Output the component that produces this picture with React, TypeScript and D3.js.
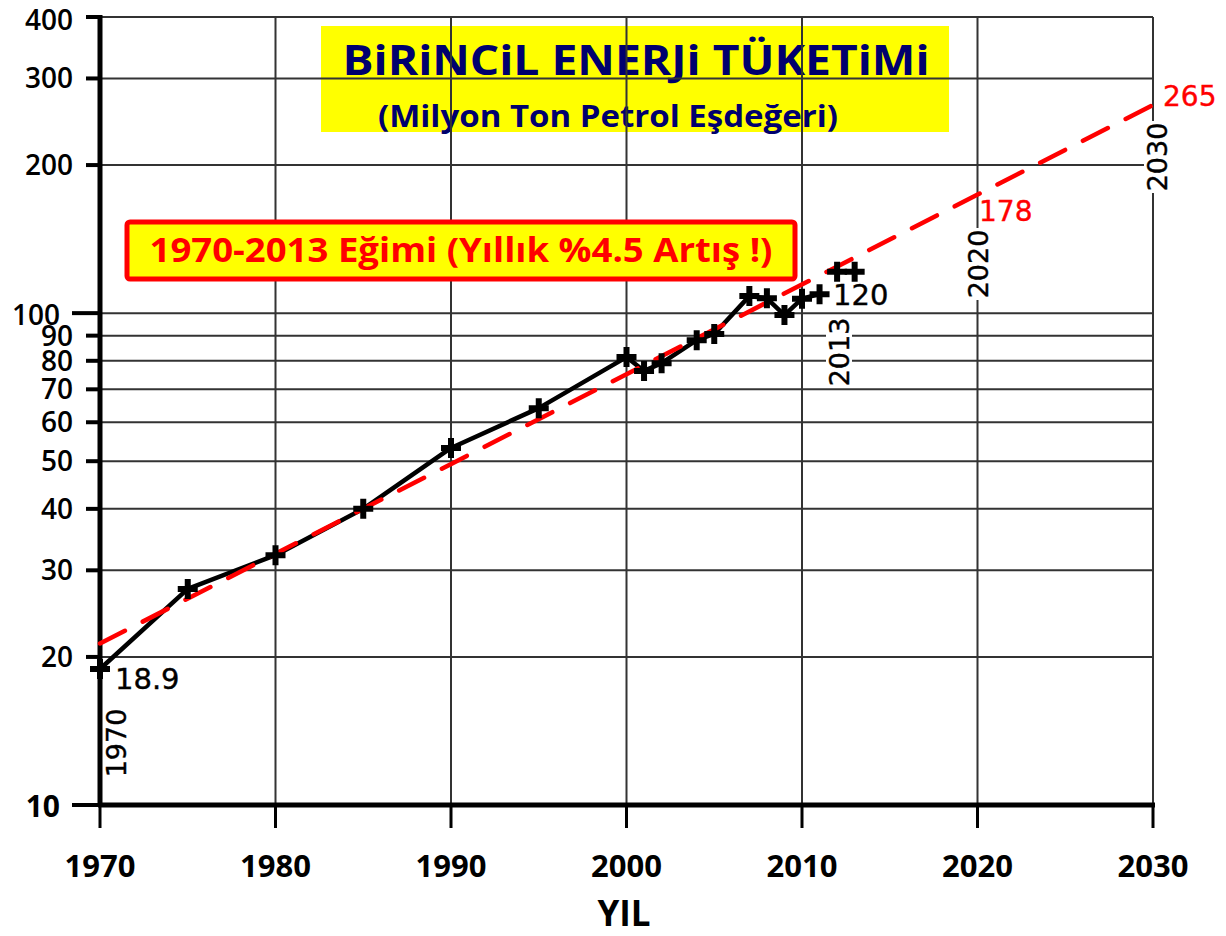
import React from "react";
import * as d3 from "d3";

const years = [1970, 1975, 1980, 1985, 1990, 1995, 2000, 2001, 2002, 2004, 2005, 2007, 2008, 2009, 2010, 2011];
const values = [18.9, 27.5, 32.2, 40.0, 53.2, 64.1, 81.4, 76.3, 79.1, 88.1, 90.7, 108.3, 107.2, 99.1, 107.0, 109.3];
const recentYears = [2012, 2013];
const recentValues = [121.4, 121.4];
const trendYears = [1970, 2030];
const trendValues = [21.3, 265];
const yTicks = [10, 20, 30, 40, 50, 60, 70, 80, 90, 100, 200, 300, 400];
const xTicks = [1970, 1980, 1990, 2000, 2010, 2020, 2030];

const TITLE = "BiRiNCiL ENERJi TÜKETiMi";
const SUBTITLE = "(Milyon Ton Petrol Eşdeğeri)";
const SLOPE_LABEL = "1970-2013 Eğimi (Yıllık %4.5 Artış !)";
const X_TITLE = "YIL";

const W = 1226;
const H = 936;

export default function App() {
  const x = d3.scaleLinear().domain([1970, 2030]).range([100, 1153]);
  const y = d3.scaleLog().domain([10, 400]).range([805, 17]);

  const mkLine = d3
    .line<[number, number]>()
    .x((d) => x(d[0]))
    .y((d) => y(d[1]));

  const mainPts: [number, number][] = years.map((yr, i) => [yr, values[i]]);
  const recentPts: [number, number][] = recentYears.map((yr, i) => [yr, recentValues[i]]);
  const trendPts: [number, number][] = trendYears.map((yr, i) => [yr, trendValues[i]]);

  const numFont = "'DejaVu Sans', sans-serif";
  const labFont = "'Open Sans', sans-serif";

  const cross = "M-10,0H10M0,-10V10";

  const rotLabel = (txt: string, cx: number, cy: number) => (
    <g key={txt} transform={`translate(${cx},${cy}) rotate(-90)`}>
      <rect x={-36} y={-13} width={72} height={26} fill="#fff" />
      <text
        x={0}
        y={0}
        textAnchor="middle"
        dominantBaseline="central"
        fontFamily={numFont}
        fontSize={27}
        fill="#000"
        stroke="#000"
        strokeWidth={0.4}
      >
        {txt}
      </text>
    </g>
  );

  return (
    <svg
      width={W}
      height={H}
      style={{ position: "absolute", left: 0, top: 0, background: "#fff" }}
    >
      <rect x={0} y={0} width={W} height={H} fill="#fff" />
      {/* title box (gridlines drawn over it) */}
      <rect x={321} y={26} width={628} height={106} fill="#ffff00" />
      <text
        x={636}
        y={75}
        textAnchor="middle"
        fontFamily={labFont}
        fontWeight={700}
        fontSize={42}
        fill="#00006e"
        textLength={587}
        lengthAdjust="spacingAndGlyphs"
      >
        {TITLE}
      </text>
      <text
        x={608}
        y={127}
        textAnchor="middle"
        fontFamily={labFont}
        fontWeight={700}
        fontSize={31}
        fill="#00006e"
        textLength={460}
        lengthAdjust="spacingAndGlyphs"
      >
        {SUBTITLE}
      </text>

      {/* horizontal gridlines */}
      {yTicks.map((t) => (
        <line
          key={"h" + t}
          x1={x(1970)}
          x2={x(2030)}
          y1={y(t)}
          y2={y(t)}
          stroke="#333"
          strokeWidth={2}
        />
      ))}
      {/* vertical gridlines */}
      {xTicks.map((t) => (
        <line
          key={"v" + t}
          x1={x(t)}
          x2={x(t)}
          y1={y(400)}
          y2={y(10)}
          stroke="#333"
          strokeWidth={2}
        />
      ))}
      {/* x ticks */}
      {xTicks.map((t) => (
        <line
          key={"xt" + t}
          x1={x(t)}
          x2={x(t)}
          y1={y(10)}
          y2={y(10) + 23}
          stroke="#000"
          strokeWidth={3}
        />
      ))}
      {/* y ticks */}
      {yTicks.map((t) => (
        <line
          key={"yt" + t}
          x1={t === 100 || t === 10 ? 72 : 86}
          x2={x(1970)}
          y1={y(t)}
          y2={y(t)}
          stroke="#000"
          strokeWidth={4}
        />
      ))}
      {/* axes */}
      <line x1={x(1970)} x2={x(1970)} y1={y(400) - 2} y2={y(10) + 2} stroke="#000" strokeWidth={5} />
      <line x1={x(1970) - 2} x2={x(2030) + 2} y1={y(10)} y2={y(10)} stroke="#000" strokeWidth={5} />

      {/* y labels */}
      {yTicks.map((t) => {
        if (t === 10) {
          return (
            <text
              key={"yl" + t}
              x={60}
              y={y(t)}
              textAnchor="end"
              dominantBaseline="central"
              fontFamily={labFont}
              fontWeight={700}
              fontSize={30}
              fill="#000"
            >
              {t}
            </text>
          );
        }
        return (
          <text
            key={"yl" + t}
            x={t === 100 ? 60 : 73}
            y={t === 100 ? y(t) + 1 : t === 400 ? y(t) + 2 : y(t) - 1}
            textAnchor="end"
            dominantBaseline="central"
            fontFamily={labFont}
            fontWeight={600}
            fontSize={28}
            fill="#000"
          >
            {t}
          </text>
        );
      })}
      {/* x labels */}
      {xTicks.map((t) => (
        <text
          key={"xl" + t}
          x={x(t)}
          y={877}
          textAnchor="middle"
          fontFamily={labFont}
          fontWeight={700}
          fontSize={31}
          fill="#000"
        >
          {t}
        </text>
      ))}
      <text
        x={624}
        y={926}
        textAnchor="middle"
        fontFamily={labFont}
        fontWeight={700}
        fontSize={35}
        fill="#000"
      >
        {X_TITLE}
      </text>

      {/* slope label box */}
      <rect x={127} y={222} width={668} height={57} rx={3} fill="#ffff00" stroke="#ff0000" strokeWidth={5} />
      <text
        x={461}
        y={262}
        textAnchor="middle"
        fontFamily={labFont}
        fontWeight={700}
        fontSize={34}
        fill="#ff0000"
        textLength={623}
        lengthAdjust="spacingAndGlyphs"
      >
        {SLOPE_LABEL}
      </text>

      {/* rotated year labels with white backgrounds */}
      {rotLabel("1970", 116, 743)}
      {rotLabel("2013", 839, 352)}
      {rotLabel("2020", 978, 264)}
      {rotLabel("2030", 1157, 157)}

      {/* value label 120 */}
      <rect x={830} y={280} width={60} height={28} fill="#fff" />
      <text x={833} y={305} fontFamily={numFont} fontSize={29} fill="#000" stroke="#000" strokeWidth={0.4}>
        120
      </text>

      {/* data line */}
      <path d={mkLine(mainPts) || ""} fill="none" stroke="#000" strokeWidth={4.5} strokeLinejoin="round" />
      <path d={mkLine(recentPts) || ""} fill="none" stroke="#000" strokeWidth={4} />
      {/* trend line */}
      <path
        d={mkLine(trendPts) || ""}
        fill="none"
        stroke="#ff0000"
        strokeWidth={4.5}
        strokeDasharray="28 20"
        strokeLinecap="round"
      />
      {/* markers */}
      {mainPts.concat(recentPts).map((p, i) => (
        <path
          key={"m" + i}
          d={cross}
          transform={`translate(${x(p[0])},${y(p[1])})`}
          stroke="#000"
          strokeWidth={6}
          fill="none"
        />
      ))}

      {/* value labels */}
      <text
        x={x(1970) + 15}
        y={y(values[0]) + 20}
        fontFamily={numFont}
        fontSize={29}
        fill="#000"
        stroke="#000"
        strokeWidth={0.4}
      >
        18.9
      </text>
      <text x={979} y={221} fontFamily={numFont} fontSize={28} fill="#ff0000" stroke="#ff0000" strokeWidth={0.4}>
        178
      </text>
      <text x={1163} y={106} fontFamily={numFont} fontSize={28} fill="#ff0000" stroke="#ff0000" strokeWidth={0.4}>
        265
      </text>
    </svg>
  );
}
